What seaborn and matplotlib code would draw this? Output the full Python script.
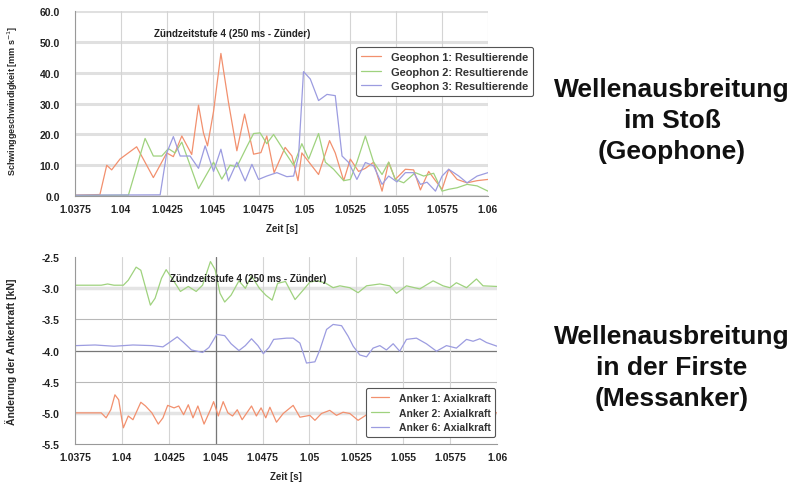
import matplotlib
matplotlib.use("Agg")
import matplotlib.pyplot as plt
from matplotlib.ticker import MultipleLocator, FormatStrFormatter
import seaborn as sns
import pandas as pd

sns.set_style("white")
plt.rcParams['font.family'] = ['Liberation Sans', 'DejaVu Sans']
plt.rcParams['axes.unicode_minus'] = False

# ---------------- top chart: geophones ----------------
g1_t = [1.03750, 1.03886, 1.03923, 1.03950, 1.03995, 1.04086, 1.04177, 1.04250, 1.04286, 1.04332,
        1.04386, 1.04423, 1.04450, 1.04472, 1.04505, 1.04545, 1.04586, 1.04632, 1.04674, 1.04723,
        1.04763, 1.04795, 1.04835, 1.04895, 1.04932, 1.04965, 1.04986, 1.05077, 1.05137, 1.05168,
        1.05214, 1.05250, 1.05295, 1.05332, 1.05377, 1.05423, 1.05459, 1.05495, 1.05550, 1.05595,
        1.05632, 1.05677, 1.05714, 1.05750, 1.05786, 1.05832, 1.05886, 1.05941, 1.06000]
g1_v = [0.3, 0.5, 10.0, 8.5, 12.0, 16.0, 6.0, 14.0, 12.8, 19.5,
        13.5, 29.5, 20.5, 16.3, 27.5, 46.3, 30.5, 14.7, 26.6, 13.6,
        14.1, 19.5, 7.6, 15.8, 13.0, 5.0, 14.0, 7.0, 18.0, 14.0,
        5.0, 12.0, 8.0, 9.0, 11.0, 1.6, 11.0, 5.4, 8.7, 8.5,
        2.0, 8.0, 5.0, 2.2, 8.7, 5.4, 4.3, 5.0, 5.4]

g2_t = [1.03750, 1.04041, 1.04132, 1.04177, 1.04223, 1.04259, 1.04295, 1.04332, 1.04423, 1.04505,
        1.04550, 1.04595, 1.04632, 1.04686, 1.04723, 1.04759, 1.04795, 1.04832, 1.04886, 1.04941,
        1.04986, 1.05023, 1.05077, 1.05114, 1.05159, 1.05214, 1.05250, 1.05286, 1.05332, 1.05377,
        1.05423, 1.05459, 1.05495, 1.05541, 1.05604, 1.05650, 1.05704, 1.05750, 1.05786, 1.05832,
        1.05886, 1.05941, 1.06000]
g2_v = [0.2, 0.3, 18.7, 13.0, 13.0, 15.4, 14.0, 17.5, 2.4, 11.0,
        5.5, 10.0, 9.5, 16.0, 20.3, 20.5, 17.0, 20.0, 15.0, 10.0,
        17.0, 12.0, 20.3, 11.0, 8.7, 5.0, 5.4, 11.0, 19.5, 11.0,
        7.0, 11.0, 5.4, 4.3, 7.6, 6.5, 7.4, 1.6, 2.2, 2.7,
        3.8, 3.3, 1.6]

g3_t = [1.03750, 1.04214, 1.04250, 1.04286, 1.04323, 1.04377, 1.04423, 1.04459, 1.04505, 1.04545,
        1.04586, 1.04632, 1.04677, 1.04714, 1.04750, 1.04795, 1.04850, 1.04904, 1.04941, 1.04968,
        1.04995, 1.05032, 1.05077, 1.05123, 1.05168, 1.05205, 1.05241, 1.05286, 1.05332, 1.05377,
        1.05423, 1.05459, 1.05504, 1.05550, 1.05595, 1.05632, 1.05668, 1.05714, 1.05750, 1.05786,
        1.05841, 1.05886, 1.05941, 1.06000]
g3_v = [0.3, 0.4, 14.0, 19.3, 13.0, 13.0, 9.0, 16.3, 8.0, 15.2,
        4.9, 11.0, 4.9, 10.3, 5.4, 6.5, 7.6, 6.3, 6.5, 13.0,
        40.4, 38.0, 31.0, 33.0, 32.6, 13.0, 10.9, 5.4, 10.9, 9.8,
        3.8, 6.5, 4.6, 7.6, 7.6, 3.8, 4.5, 1.6, 6.5, 8.7,
        6.5, 4.3, 6.5, 7.6]

geo_names = ["Geophon 1: Resultierende", "Geophon 2: Resultierende", "Geophon 3: Resultierende"]

# ---------------- bottom chart: anchors ----------------
a1_t = [1.03756, 1.03890, 1.03916, 1.03941, 1.03963, 1.03983, 1.04000, 1.04008, 1.04034, 1.04059,
        1.04101, 1.04126, 1.04160, 1.04194, 1.04219, 1.04244, 1.04278, 1.04303, 1.04329, 1.04354,
        1.04379, 1.04405, 1.04438, 1.04472, 1.04489, 1.04514, 1.04540, 1.04565, 1.04590, 1.04615,
        1.04641, 1.04666, 1.04691, 1.04717, 1.04742, 1.04767, 1.04789, 1.04824, 1.04860, 1.04913,
        1.04949, 1.05002, 1.05029, 1.05064, 1.05108, 1.05144, 1.05179, 1.05215, 1.05259, 1.05330,
        1.05420, 1.05520, 1.05620, 1.05720, 1.05820, 1.05920, 1.06000]
a1_v = [-5.00, -5.00, -5.08, -4.95, -4.71, -4.79, -5.11, -5.24, -5.05, -5.11,
        -4.83, -4.89, -5.00, -5.18, -5.08, -4.88, -4.92, -4.89, -5.03, -4.87,
        -5.08, -4.89, -5.18, -4.95, -4.82, -5.05, -4.82, -5.00, -5.05, -4.95,
        -5.11, -5.00, -4.89, -5.05, -4.92, -5.08, -4.91, -5.15, -5.01, -4.88,
        -5.07, -5.04, -5.12, -5.01, -4.96, -5.04, -4.99, -5.01, -5.12, -4.98,
        -5.03, -4.97, -5.02, -4.98, -5.02, -4.99, -5.00]

a2_t = [1.03756, 1.03890, 1.03924, 1.03958, 1.04008, 1.04034, 1.04076, 1.04101, 1.04152, 1.04177,
        1.04211, 1.04236, 1.04278, 1.04312, 1.04354, 1.04396, 1.04430, 1.04472, 1.04497, 1.04523,
        1.04548, 1.04582, 1.04624, 1.04658, 1.04691, 1.04733, 1.04767, 1.04801, 1.04830, 1.04872,
        1.04923, 1.04966, 1.05002, 1.05037, 1.05082, 1.05126, 1.05162, 1.05215, 1.05259, 1.05304,
        1.05375, 1.05428, 1.05464, 1.05517, 1.05588, 1.05659, 1.05712, 1.05748, 1.05783, 1.05837,
        1.05890, 1.05925, 1.06000]
a2_v = [-2.95, -2.95, -2.93, -2.95, -2.95, -2.87, -2.66, -2.71, -3.27, -3.16,
        -2.84, -2.70, -2.89, -3.05, -2.97, -3.05, -2.95, -2.57, -2.70, -3.08,
        -3.22, -3.11, -2.88, -3.00, -2.80, -3.00, -3.11, -3.19, -2.92, -2.89,
        -3.18, -3.03, -2.90, -2.88, -2.91, -2.99, -2.96, -2.99, -3.07, -2.96,
        -2.93, -2.96, -3.08, -2.96, -3.01, -2.88, -2.96, -2.99, -2.91, -2.99,
        -2.85, -2.96, -2.97]

a6_t = [1.03756, 1.03857, 1.03958, 1.04059, 1.04160, 1.04219, 1.04253, 1.04295, 1.04329, 1.04371,
        1.04430, 1.04464, 1.04506, 1.04548, 1.04582, 1.04624, 1.04658, 1.04691, 1.04725, 1.04754,
        1.04784, 1.04809, 1.04878, 1.04913, 1.04949, 1.04984, 1.05029, 1.05055, 1.05091, 1.05126,
        1.05171, 1.05206, 1.05233, 1.05268, 1.05304, 1.05339, 1.05375, 1.05410, 1.05446, 1.05481,
        1.05517, 1.05570, 1.05623, 1.05677, 1.05730, 1.05783, 1.05837, 1.05872, 1.05908, 1.05943,
        1.06000]
a6_v = [-3.92, -3.91, -3.93, -3.91, -3.92, -3.94, -3.87, -3.78, -3.87, -3.99,
        -4.03, -3.95, -3.74, -3.76, -3.89, -4.00, -3.92, -3.81, -3.92, -4.05,
        -3.95, -3.82, -3.80, -3.80, -3.88, -4.20, -4.18, -3.99, -3.66, -3.58,
        -3.60, -3.77, -3.93, -4.07, -4.10, -3.96, -3.92, -3.99, -3.89, -4.01,
        -3.82, -3.80, -3.89, -4.01, -3.92, -3.96, -3.82, -3.85, -3.81, -3.87,
        -3.93]

anker_names = ["Anker 1: Axialkraft", "Anker 2: Axialkraft", "Anker 6: Axialkraft"]

x_ticks = [1.0375, 1.04, 1.0425, 1.045, 1.0475, 1.05, 1.0525, 1.055, 1.0575, 1.06]
x_ticklabels = ["1.0375", "1.04", "1.0425", "1.045", "1.0475", "1.05", "1.0525", "1.055", "1.0575", "1.06"]

colors = ["#f2906e", "#9fd27e", "#9c9ce0"]

geo_df = pd.concat([
    pd.DataFrame({"t": g1_t, "v": g1_v, "s": geo_names[0]}),
    pd.DataFrame({"t": g2_t, "v": g2_v, "s": geo_names[1]}),
    pd.DataFrame({"t": g3_t, "v": g3_v, "s": geo_names[2]}),
])
ank_df = pd.concat([
    pd.DataFrame({"t": a1_t, "v": a1_v, "s": anker_names[0]}),
    pd.DataFrame({"t": a2_t, "v": a2_v, "s": anker_names[1]}),
    pd.DataFrame({"t": a6_t, "v": a6_v, "s": anker_names[2]}),
])

fig = plt.figure(figsize=(8.01, 4.89), dpi=100)
ax1 = fig.add_axes([0.0936, 0.597, 0.5156, 0.378])
ax2 = fig.add_axes([0.0936, 0.090, 0.5270, 0.382])

def style_axis(ax):
    for side in ["top", "right"]:
        ax.spines[side].set_visible(False)
    for side in ["left", "bottom"]:
        ax.spines[side].set_color("#999999")
        ax.spines[side].set_linewidth(0.8)
    ax.set_xlim(1.0375, 1.06)
    ax.set_xticks(x_ticks)
    ax.set_xticklabels(x_ticklabels)
    ax.xaxis.set_minor_locator(MultipleLocator(0.0005))
    ax.tick_params(axis="y", which="major", length=9, width=1.6, color="#cfcfcf",
                   labelsize=7.5, pad=2)
    ax.tick_params(axis="x", which="major", length=3, width=0.8, color="#999999",
                   labelsize=7.5, pad=3)
    ax.tick_params(axis="both", which="minor", length=2.5, width=0.7, color="#999999")
    for lab in ax.get_xticklabels() + ax.get_yticklabels():
        lab.set_fontweight("bold")
        lab.set_color("#222222")
    ax.set_axisbelow(True)

def style_legend(leg):
    leg.get_frame().set_edgecolor("#555555")
    leg.get_frame().set_linewidth(0.8)
    for t in leg.get_texts():
        t.set_fontweight("bold")
        t.set_color("#333333")

# ---------- top ----------
sns.lineplot(data=geo_df, x="t", y="v", hue="s", palette=colors, ax=ax1,
             linewidth=0.9, sort=False, estimator=None)
ax1.set_ylim(0, 60)
ax1.yaxis.set_major_locator(MultipleLocator(10))
ax1.yaxis.set_minor_locator(MultipleLocator(2))
ax1.yaxis.set_major_formatter(FormatStrFormatter("%.1f"))
for y in range(0, 61, 10):
    ax1.axhline(y, color="#e0e0e0", lw=2.2, zorder=0)
for x in x_ticks:
    ax1.axvline(x, color="#d4d4d4", lw=0.8, zorder=0)
style_axis(ax1)
ax1.set_xlabel("Zeit [s]", fontsize=7, fontweight="bold", labelpad=6)
ax1.set_ylabel("Schwinggeschwindigkeit [mm s$^{-1}$]", fontsize=6.5, fontweight="bold")
ax1.yaxis.set_label_coords(-0.132, 0.52)
ax1.text(0.38, 0.88, "Zündzeitstufe 4 (250 ms - Zünder)", transform=ax1.transAxes,
         ha="center", va="center", fontsize=7, fontweight="bold", color="#222222")
leg1 = ax1.legend(loc="upper left", bbox_to_anchor=(0.668, 0.835), fontsize=7.9, frameon=True,
                  fancybox=True, handlelength=1.8, handletextpad=0.9, borderpad=0.45,
                  labelspacing=0.4, framealpha=1.0)
style_legend(leg1)

# ---------- bottom ----------
sns.lineplot(data=ank_df, x="t", y="v", hue="s", palette=colors, ax=ax2,
             linewidth=0.9, sort=False, estimator=None)
ax2.set_ylim(-5.5, -2.5)
ax2.yaxis.set_major_locator(MultipleLocator(0.5))
ax2.yaxis.set_minor_locator(MultipleLocator(0.1))
ax2.yaxis.set_major_formatter(FormatStrFormatter("%.1f"))
for y in [-3.0, -5.0]:
    ax2.axhline(y, color="#e4e4e4", lw=2.5, zorder=0)
for y in [-3.5, -4.5]:
    ax2.axhline(y, color="#b8b8b8", lw=0.8, zorder=0)
ax2.axhline(-4.0, color="#777777", lw=0.9, zorder=0)
for x in x_ticks:
    ax2.axvline(x, color="#d4d4d4", lw=0.8, zorder=0)
ax2.axvline(1.045, color="#777777", lw=0.9, zorder=0)
style_axis(ax2)
ax2.set_xlabel("Zeit [s]", fontsize=7, fontweight="bold", labelpad=6)
ax2.set_ylabel("Änderung der Ankerkraft [kN]", fontsize=7.5, fontweight="bold")
ax2.yaxis.set_label_coords(-0.137, 0.50)
ax2.text(0.41, 0.89, "Zündzeitstufe 4 (250 ms - Zünder)", transform=ax2.transAxes,
         ha="center", va="center", fontsize=7, fontweight="bold", color="#222222")
leg2 = ax2.legend(loc="lower right", bbox_to_anchor=(1.008, 0.01), fontsize=7.5, frameon=True,
                  fancybox=True, handlelength=1.8, handletextpad=0.9, borderpad=0.45,
                  labelspacing=0.45, framealpha=1.0)
style_legend(leg2)

# ---------- side titles ----------
fig.text(672 / 801, 1 - 121 / 489, "Wellenausbreitung\nim Stoß\n(Geophone)",
         ha="center", va="center", fontsize=19, fontweight="bold", color="#111111",
         linespacing=1.38)
fig.text(672 / 801, 1 - 368 / 489, "Wellenausbreitung\nin der Firste\n(Messanker)",
         ha="center", va="center", fontsize=19, fontweight="bold", color="#111111",
         linespacing=1.38)

fig.savefig("out.png", dpi=100)
